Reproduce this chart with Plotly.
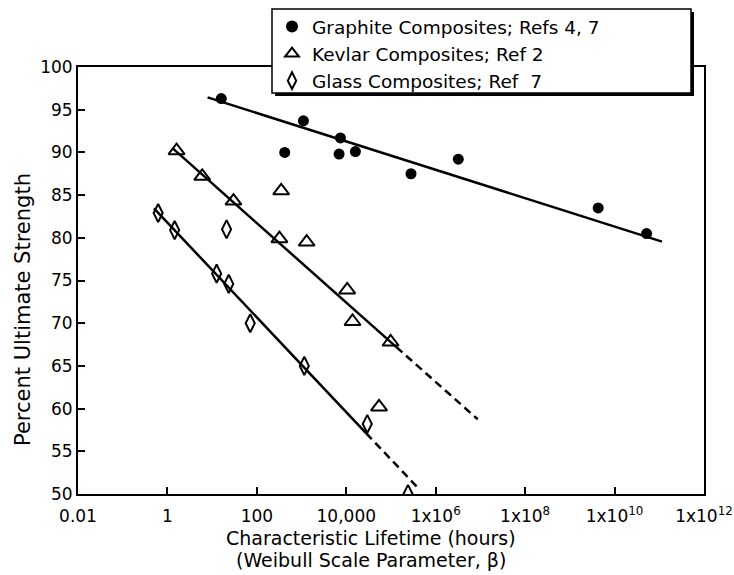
import plotly.graph_objects as go

# ---- data ----
graphite_life = [16, 1100, 7400, 420, 6900, 16000, 2.8e5, 3.2e6, 4.3e9, 5.2e10]
graphite_strength = [96.3, 93.7, 91.7, 90.0, 89.8, 90.1, 87.5, 89.2, 83.5, 80.5]

kevlar_life = [1.6, 6.0, 30, 350, 320, 1300, 10500, 13800, 98000, 54000]
kevlar_strength = [90.2, 87.2, 84.3, 85.5, 79.9, 79.5, 73.9, 70.2, 67.8, 60.2]

glass_life = [0.62, 1.45, 21, 12.6, 23.5, 71, 1150, 29500, 2.4e5]
glass_strength = [82.9, 80.9, 81.0, 75.8, 74.6, 70.0, 65.0, 58.2, 50.0]

# fitted trend lines (solid) and their extrapolations (dashed)
graphite_fit_life = [7.9, 1.15e11]
graphite_fit_strength = [96.45, 79.55]
kevlar_fit_life = [1.3, 1.32e5]
kevlar_fit_strength = [90.5, 67.2]
kevlar_ext_life = [1.32e5, 8.7e6]
kevlar_ext_strength = [67.2, 58.75]
glass_fit_life = [0.5, 2.8e4]
glass_fit_strength = [83.45, 57.1]
glass_ext_life = [2.8e4, 4.4e5]
glass_ext_strength = [57.1, 50.5]

x_tickvals = [0.01, 1, 100, 1e4, 1e6, 1e8, 1e10, 1e12]
x_ticktext = ["0.01", "1", "100", "10,000", "1x10<sup>6</sup>", "1x10<sup>8</sup>",
              "1x10<sup>10</sup>", "1x10<sup>12</sup>"]

legend_names = ["Graphite Composites; Refs 4, 7",
                "Kevlar Composites; Ref 2",
                "Glass Composites; Ref  7"]

FONT = "DejaVu Sans"
W, H = 734, 575
L, R, T, B = 78, 30, 67, 81
PW, PH = W - L - R, H - T - B


def px_x(p):
    return (p - L) / PW


def px_y(p):
    return (H - B - p) / PH


fig = go.Figure()

line_style = dict(color="black", width=2.5)
dash_style = dict(color="black", width=2.5, dash="8px,5px")

fig.add_trace(go.Scatter(x=graphite_fit_life, y=graphite_fit_strength, mode="lines",
                         line=line_style, showlegend=False, hoverinfo="skip"))
fig.add_trace(go.Scatter(x=kevlar_fit_life, y=kevlar_fit_strength, mode="lines",
                         line=line_style, showlegend=False, hoverinfo="skip"))
fig.add_trace(go.Scatter(x=kevlar_ext_life, y=kevlar_ext_strength, mode="lines",
                         line=dash_style, showlegend=False, hoverinfo="skip"))
fig.add_trace(go.Scatter(x=glass_fit_life, y=glass_fit_strength, mode="lines",
                         line=line_style, showlegend=False, hoverinfo="skip"))
fig.add_trace(go.Scatter(x=glass_ext_life, y=glass_ext_strength, mode="lines",
                         line=dash_style, showlegend=False, hoverinfo="skip"))

fig.add_trace(go.Scatter(x=graphite_life, y=graphite_strength, mode="markers",
                         name=legend_names[0],
                         marker=dict(symbol="circle", size=11, color="black",
                                     line=dict(width=0))))
fig.add_trace(go.Scatter(x=kevlar_life, y=kevlar_strength, mode="markers",
                         name=legend_names[1],
                         marker=dict(symbol="triangle-up-open", size=14, color="black",
                                     line=dict(width=2, color="black"))))
fig.add_trace(go.Scatter(x=glass_life, y=glass_strength, mode="markers",
                         name=legend_names[2],
                         marker=dict(symbol="diamond-tall-open", size=13, color="black",
                                     line=dict(width=2, color="black"))))

# legend box with drop shadow
fig.add_shape(type="rect", xref="paper", yref="paper",
              x0=px_x(275), x1=px_x(694), y0=px_y(96), y1=px_y(12),
              fillcolor="black", line=dict(width=0), layer="above")
fig.add_shape(type="rect", xref="paper", yref="paper",
              x0=px_x(272), x1=px_x(691), y0=px_y(93), y1=px_y(9),
              fillcolor="white", line=dict(color="black", width=1.5), layer="above")

title_font = dict(family=FONT, size=19, color="black")
fig.add_annotation(text="Characteristic Lifetime (hours)",
                   xref="paper", yref="paper", x=px_x(371), y=px_y(538),
                   xanchor="center", yanchor="middle", showarrow=False, font=title_font)
fig.add_annotation(text="(Weibull Scale Parameter, β)",
                   xref="paper", yref="paper", x=px_x(371), y=px_y(560),
                   xanchor="center", yanchor="middle", showarrow=False, font=title_font)
fig.add_annotation(text="Percent Ultimate Strength",
                   xref="paper", yref="paper", x=px_x(23), y=px_y(310),
                   xanchor="center", yanchor="middle", textangle=-90, showarrow=False,
                   font=dict(family=FONT, size=21, color="black"))

axis_common = dict(showline=True, linecolor="black", linewidth=2, mirror=True,
                   ticks="inside", ticklen=7, tickwidth=1.5, tickcolor="black",
                   showgrid=False, zeroline=False, automargin=False,
                   tickfont=dict(family=FONT, size=17, color="black"))

fig.update_xaxes(type="log", range=[-2, 12], tickvals=x_tickvals, ticktext=x_ticktext,
                 ticklabelstandoff=6, **axis_common)
fig.update_yaxes(range=[50, 100], dtick=5, tick0=50, **axis_common)

fig.update_layout(
    width=W, height=H,
    margin=dict(l=L, r=R, t=T, b=B, pad=0, autoexpand=False),
    paper_bgcolor="white", plot_bgcolor="white",
    font=dict(family=FONT, color="black"),
    showlegend=True,
    legend=dict(xref="container", yref="container",
                x=272 / W, y=(H - 8) / H, xanchor="left", yanchor="top",
                bgcolor="rgba(0,0,0,0)", borderwidth=0,
                font=dict(family=FONT, size=18.5, color="black"),
                itemsizing="constant"),
)

fig.write_html("out.html")
